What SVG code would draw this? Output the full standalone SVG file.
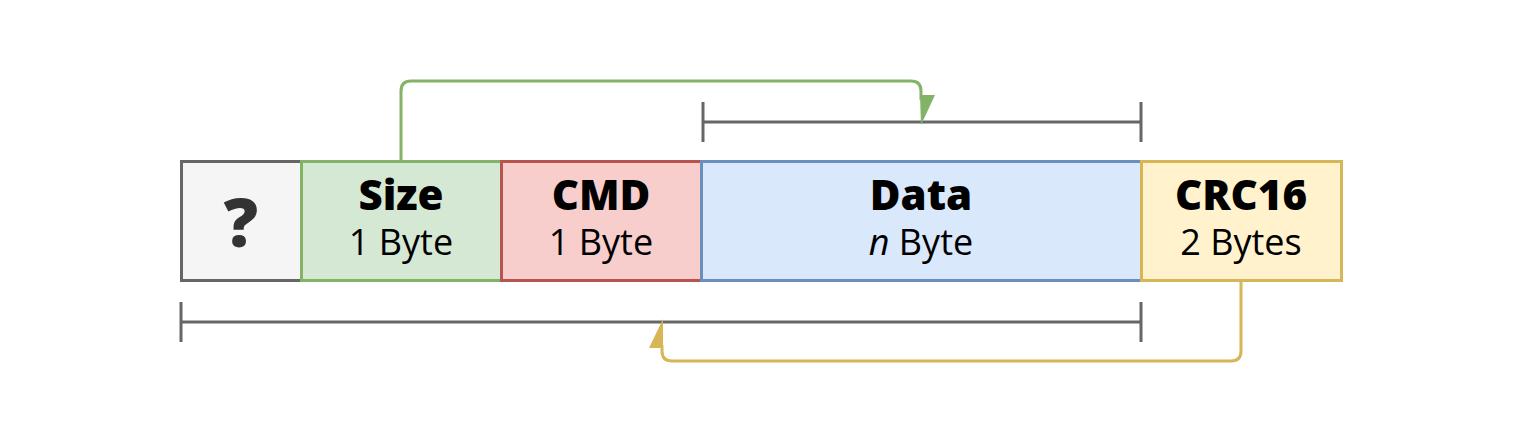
<svg xmlns="http://www.w3.org/2000/svg" width="1524" height="444" viewBox="0 0 1524 444">
<style>
.box{stroke-width:3}
.t1{font-family:"Open Sans","Liberation Sans",sans-serif;font-weight:800;font-size:42px;text-anchor:middle;fill:#000}
.t2{font-family:"Open Sans","Liberation Sans",sans-serif;font-size:36px;text-anchor:middle;fill:#000}
.br{stroke:#666666;stroke-width:3;fill:none}
</style>
<rect width="1524" height="444" fill="#fff"/>
<g id="connectors">
<path class="br" d="M703 122H1141M703 102V142M1141 102V142"/>
<path class="br" d="M181 322H1141M181 302V342M1141 302V342"/>
<path d="M401 161V91Q401 81 411 81H911Q921 81 921 91V100" fill="none" stroke="#82b366" stroke-width="3"/>
<polygon points="920,95 935,95 921,125" fill="#82b366"/>
<path d="M1241 281V351Q1241 361 1231 361H672Q662 361 662 351V345" fill="none" stroke="#d6b656" stroke-width="3"/>
<polygon points="649,348 663,348 663,319" fill="#d6b656"/>
</g>
<g id="unknown">
<rect class="box" x="181.5" y="161.5" width="120" height="119" fill="#f5f5f5" stroke="#666666"/>
<text x="241" y="247" class="t1" style="font-size:68px;fill:#333333">?</text>
</g>
<g id="size">
<rect class="box" x="301.5" y="161.5" width="200" height="119" fill="#d5e8d4" stroke="#82b366"/>
<text x="401" y="210" class="t1">Size</text>
<text x="401" y="255" class="t2">1 Byte</text>
</g>
<g id="cmd">
<rect class="box" x="501.5" y="161.5" width="200" height="119" fill="#f8cecc" stroke="#b85450"/>
<text x="601" y="210" class="t1">CMD</text>
<text x="601" y="255" class="t2">1 Byte</text>
</g>
<g id="data">
<rect class="box" x="701.5" y="161.5" width="440" height="119" fill="#dae8fc" stroke="#6c8ebf"/>
<text x="921" y="210" class="t1">Data</text>
<text x="921" y="255" class="t2"><tspan font-style="italic">n</tspan> Byte</text>
</g>
<g id="crc16">
<rect class="box" x="1141.5" y="161.5" width="200" height="119" fill="#fff2cc" stroke="#d6b656"/>
<text x="1241" y="210" class="t1">CRC16</text>
<text x="1241" y="255" class="t2">2 Bytes</text>
</g>
</svg>
